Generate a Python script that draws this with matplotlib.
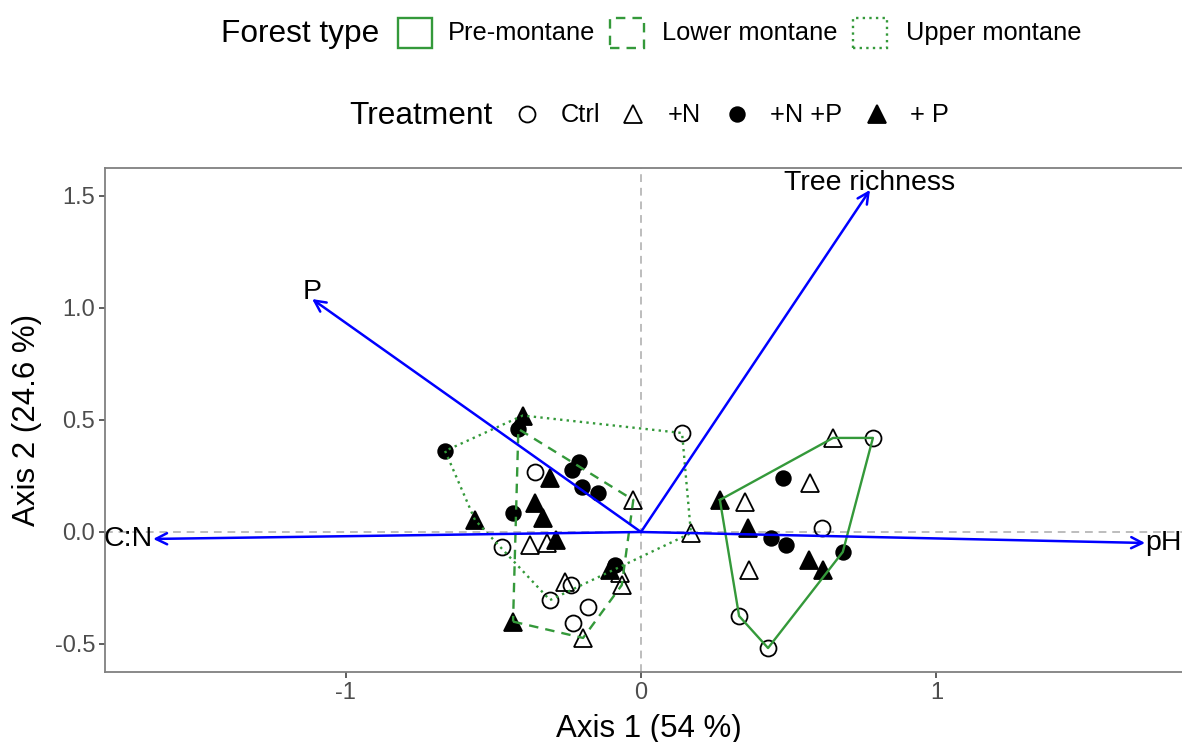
import numpy as np
import matplotlib.pyplot as plt
from matplotlib.patches import Rectangle
from matplotlib.lines import Line2D

plt.rcParams['font.family'] = ['Liberation Sans', 'DejaVu Sans']

# site scores on the first two axes
forest = (['Pre-montane'] * 16 + ['Upper montane'] * 16 + ['Lower montane'] * 15)
treatment = (['Ctrl'] * 4 + ['+N'] * 4 + ['+N +P'] * 4 + ['+ P'] * 4
             + ['Ctrl'] * 4 + ['+N'] * 4 + ['+N +P'] * 4 + ['+ P'] * 4
             + ['Ctrl'] * 3 + ['+N'] * 4 + ['+N +P'] * 4 + ['+ P'] * 4)
axis1 = [0.785, 0.612, 0.332, 0.430,
         0.650, 0.572, 0.352, 0.366,
         0.480, 0.440, 0.490, 0.683,
         0.267, 0.362, 0.569, 0.616,
         0.139, -0.308, -0.470, -0.359,
         0.169, -0.376, -0.318, -0.257,
         -0.663, -0.433, -0.210, -0.234,
         -0.400, -0.562, -0.308, -0.105,
         -0.180, -0.230, -0.237,
         -0.196, -0.065, -0.026, -0.072,
         -0.415, -0.200, -0.145, -0.088,
         -0.433, -0.358, -0.332, -0.288]
axis2 = [0.420, 0.018, -0.375, -0.518,
         0.420, 0.218, 0.134, -0.170,
         0.240, -0.027, -0.058, -0.089,
         0.143, 0.018, -0.125, -0.170,
         0.442, -0.304, -0.066, 0.268,
         -0.005, -0.058, -0.049, -0.223,
         0.362, 0.085, 0.313, 0.277,
         0.520, 0.054, 0.241, -0.170,
         -0.334, -0.406, -0.237,
         -0.473, -0.237, 0.143, -0.183,
         0.460, 0.200, 0.173, -0.147,
         -0.400, 0.129, 0.062, -0.036]

# fitted environmental vectors
env_names = ['Tree richness', 'P', 'C:N', 'pH']
env_x = [0.775, -1.113, -1.651, 1.706]
env_y = [1.527, 1.040, -0.031, -0.049]

forest_levels = ['Pre-montane', 'Lower montane', 'Upper montane']
treat_levels = ['Ctrl', '+N', '+N +P', '+ P']

green = '#34993a'
forest_ls = {'Pre-montane': '-', 'Lower montane': (0, (4, 3)),
             'Upper montane': (0, (1, 1.8))}
treat_style = {'Ctrl': dict(marker='o', mfc='none', ms=11.5),
               '+N': dict(marker='^', mfc='none', ms=13.5),
               '+N +P': dict(marker='o', mfc='black', ms=10.5),
               '+ P': dict(marker='^', mfc='black', ms=12.5)}


def hull(pts):
    pts = sorted(set(pts))
    def cross(o, a, b):
        return (a[0] - o[0]) * (b[1] - o[1]) - (a[1] - o[1]) * (b[0] - o[0])
    lower, upper = [], []
    for p in pts:
        while len(lower) >= 2 and cross(lower[-2], lower[-1], p) <= 0:
            lower.pop()
        lower.append(p)
    for p in reversed(pts):
        while len(upper) >= 2 and cross(upper[-2], upper[-1], p) <= 0:
            upper.pop()
        upper.append(p)
    return lower[:-1] + upper[:-1]


W, H = 1182, 742
fig = plt.figure(figsize=(W / 100, H / 100), dpi=100)
ax = fig.add_axes([105 / W, 1 - 672 / H, 1 - 105 / W, (672 - 168) / H])

ax.axhline(0, color='#bdbdbd', lw=1.4, ls=(0, (4, 3)), zorder=1)
ax.axvline(0, color='#bdbdbd', lw=1.4, ls=(0, (4, 3)), zorder=1)

x = np.array(axis1)
y = np.array(axis2)
f = np.array(forest)
t = np.array(treatment)

for tr in treat_levels:
    m = t == tr
    ax.plot(x[m], y[m], ls='none', mec='black', mew=1.3, color='black',
            zorder=3, **treat_style[tr])

for fo in forest_levels:
    m = f == fo
    h = hull(list(zip(x[m], y[m])))
    h.append(h[0])
    hx, hy = zip(*h)
    ax.plot(hx, hy, color=green, lw=1.7, ls=forest_ls[fo], zorder=4)

aligns = {'Tree richness': ('center', 'baseline'), 'P': ('center', 'baseline'),
          'C:N': ('right', 'center'), 'pH': ('left', 'center')}
for name, ex, ey in zip(env_names, env_x, env_y):
    ax.annotate('', xy=(ex, ey), xytext=(0, 0),
                arrowprops=dict(arrowstyle='->', color='#0000ff', lw=1.8,
                                mutation_scale=20, shrinkA=0, shrinkB=0),
                zorder=5)
    ha, va = aligns[name]
    ax.text(ex, ey, name, ha=ha, va=va, fontsize=20.5, color='black',
            zorder=6, clip_on=False)

ax.set_xlim(-1.814, 1.831)
ax.set_ylim(-0.625, 1.625)
ax.set_xticks([-1, 0, 1])
ax.set_xticklabels(['-1', '0', '1'])
ax.set_yticks([-0.5, 0.0, 0.5, 1.0, 1.5])
ax.set_yticklabels(['-0.5', '0.0', '0.5', '1.0', '1.5'])
ax.tick_params(length=4, width=1.1, color='#333333', labelcolor='#4d4d4d',
               labelsize=17, pad=3)
for side in ['left', 'bottom', 'top']:
    ax.spines[side].set_color('#808080')
    ax.spines[side].set_linewidth(1.3)
ax.spines['right'].set_visible(False)

fig.text(649 / W, 1 - 729 / H, 'Axis 1 (54 %)', ha='center', va='center',
         fontsize=22.5)
fig.text(27 / W, 1 - 420 / H, 'Axis 2 (24.6 %)', ha='center', va='center',
         rotation=90, fontsize=22.5)


def px(xp, yp):
    return xp / W, 1 - yp / H


# forest type legend
fig.text(*px(221, 34), 'Forest type', ha='left', va='center', fontsize=22.8)
box_left = [398, 610, 853]
text_left = [448, 662, 906]
for fo, bl, tl in zip(forest_levels, box_left, text_left):
    fig.patches.append(Rectangle(px(bl, 48), 34 / W, 30 / H, fill=False,
                                 edgecolor=green, lw=1.7, ls=forest_ls[fo],
                                 transform=fig.transFigure))
    fig.text(*px(tl, 33), fo, ha='left', va='center', fontsize=18.3)

# treatment legend
fig.text(*px(349, 116), 'Treatment', ha='left', va='center', fontsize=22.8)
key_x = [527, 633, 737, 877]
label_left = [561, 668, 770, 910]
for tr, kx, tl in zip(treat_levels, key_x, label_left):
    fig.add_artist(Line2D([kx / W], [1 - 114 / H], transform=fig.transFigure,
                          ls='none', mec='black', mew=1.3, color='black',
                          **treat_style[tr]))
    fig.text(*px(tl, 115), tr, ha='left', va='center', fontsize=18.3)

fig.savefig('out.png', dpi=100)
